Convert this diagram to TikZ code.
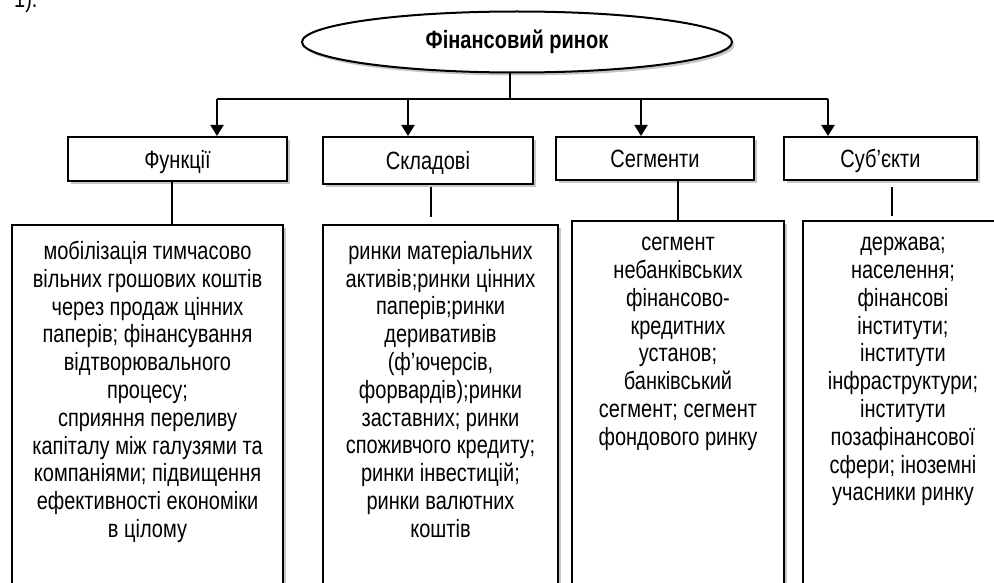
\documentclass[tikz,border=0pt]{standalone}
\usepackage{fontspec}
\setmainfont{Liberation Sans}[FakeStretch=0.8]
\usetikzlibrary{positioning,shapes.geometric,shadows,arrows.meta}

\begin{document}
\begin{tikzpicture}[
  x=1pt, y=-1pt,
  font=\fontsize{25}{27.8}\selectfont,
  every node/.style={inner sep=0pt},
  boxshadow/.style={drop shadow={shadow xshift=2.5pt, shadow yshift=-3pt,
                    fill=black!22, opacity=1}},
  market/.style={ellipse, draw, line width=2pt, fill=white, boxshadow,
                 minimum width=430pt, minimum height=61pt, font=\fontsize{25}{27.8}\selectfont\bfseries},
  hdr/.style={rectangle, draw, line width=2pt, fill=white, boxshadow,
              text height=20pt, text depth=2pt},
  body/.style={rectangle, draw, line width=2pt, fill=white, boxshadow,
               minimum height=420pt, anchor=north},
  bodytxt/.style={align=center, execute at begin node=\strut},
  link/.style={line width=2pt},
  arr/.style={line width=2pt, -{Triangle[width=13pt,length=11pt]}}
]
\useasboundingbox (0,0) rectangle (994,583);
\clip (0,0) rectangle (994,583);

\node[anchor=base west] (num) at (14,8) {1).};

% ---- top ----
\node[market] (market) at (517,42) {Фінансовий ринок};

% ---- headers ----
\foreach \n/\x/\y/\w/\h/\lbl in {hfun/177.5/159/219/44/Функції,
                                  hskl/428/160.5/210/47/Складові,
                                  hseg/655/158.5/198/43/Сегменти,
                                  hsub/880.5/158.5/193/43/Суб’єкти} {
  \node[hdr, minimum width=\w pt, minimum height=\h pt] (\n) at (\x,\y) {\lbl};
}

% ---- content boxes ----
\node[body, minimum width=271pt] (bfun) at (147.5,224) {};
\node[body, minimum width=235pt] (bskl) at (440.5,224) {};
\node[body, minimum width=212pt] (bseg) at (678,220) {};
\node[body, minimum width=200pt] (bsub) at (903,220) {};

\node[bodytxt, below=17pt of bfun.north] (tfun) {мобілізація тимчасово\\
  вільних грошових коштів\\через продаж цінних\\паперів; фінансування\\
  відтворювального\\процесу;\\сприяння переливу\\капіталу між галузями та\\
  компаніями; підвищення\\ефективності економіки\\в цілому};
\node[bodytxt, below=17pt of bskl.north] (tskl) {ринки матеріальних\\
  активів;ринки цінних\\паперів;ринки\\деривативів\\(ф’ючерсів,\\
  форвардів);ринки\\заставних; ринки\\споживчого кредиту;\\
  ринки інвестицій;\\ринки валютних\\коштів};
\node[bodytxt, below=17pt of bseg.north] (tseg) {сегмент\\небанківських\\
  фінансово-\\кредитних\\установ;\\банківський\\сегмент; сегмент\\фондового ринку};
\node[bodytxt, below=17pt of bsub.north] (tsub) {держава;\\населення;\\
  фінансові\\інститути;\\інститути\\інфраструктури;\\інститути\\
  позафінансової\\сфери; іноземні\\учасники ринку};

% ---- connectors ----
\coordinate (hub) at (510,99);
\coordinate (a1) at (217,99);
\coordinate (a2) at (408,99);
\coordinate (a3) at (641,99);
\coordinate (a4) at (828,99);
\draw[link] (hub |- market.south) -- (hub);
\draw[link] (a1) -- (a4);
\foreach \a/\n in {a1/hfun, a2/hskl, a3/hseg, a4/hsub}
  \draw[arr] (\a) -- (\a |- \n.north);

\draw[link] ([xshift=-5.5pt]hfun.south) -- ([xshift=-5.5pt]hfun.south |- bfun.north);
\draw[link, shorten <=2pt, shorten >=7pt] ([xshift=3pt]hskl.south) -- ([xshift=3pt]hskl.south |- bskl.north);
\draw[link] ([xshift=23pt]hseg.south) -- ([xshift=23pt]hseg.south |- bseg.north);
\draw[link, shorten <=6pt, shorten >=4pt] ([xshift=11.5pt]hsub.south) -- ([xshift=11.5pt]hsub.south |- bsub.north);
\end{tikzpicture}
\end{document}
